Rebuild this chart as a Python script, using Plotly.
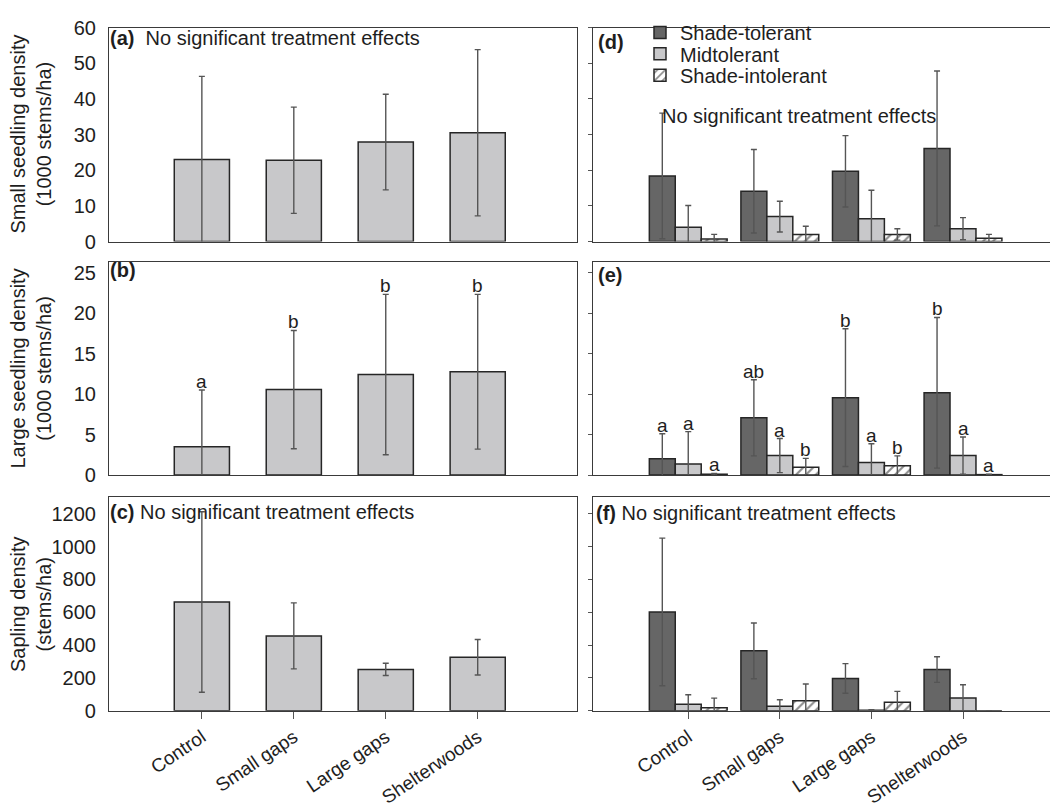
import plotly.graph_objects as go

W, H = 1050, 809

# ---- data -------------------------------------------------------------
categories = ["Control", "Small gaps", "Large gaps", "Shelterwoods"]

# left column: all species pooled (mean, SE)
small_all = [23.0, 22.8, 27.9, 30.5]
small_all_se = [23.3, 14.9, 13.4, 23.3]
large_all = [3.5, 10.55, 12.4, 12.75]
large_all_se = [7.0, 7.3, 9.9, 9.55]
large_all_letters = ["a", "b", "b", "b"]
sapling_all = [663, 456, 252, 326]
sapling_all_se = [550, 201, 37, 108]

# right column: by shade-tolerance group
groups = ["Shade-tolerant", "Midtolerant", "Shade-intolerant"]

small_tol = [18.4, 14.1, 19.7, 26.1]
small_tol_se = [17.6, 11.7, 10.0, 21.7]
small_mid = [4.0, 7.0, 6.4, 3.6]
small_mid_se = [6.1, 4.3, 8.0, 3.1]
small_int = [0.7, 2.0, 2.0, 0.9]
small_int_se = [1.3, 2.3, 1.6, 1.1]

large_tol = [2.0, 7.07, 9.55, 10.15]
large_tol_se = [3.1, 4.7, 8.5, 9.3]
large_mid = [1.36, 2.4, 1.56, 2.4]
large_mid_se = [4.0, 2.1, 2.3, 2.3]
large_int = [0.1, 0.96, 1.16, 0.05]
large_int_se = [0.1, 1.1, 1.2, 0.05]
large_tol_letters = ["a", "ab", "b", "b"]
large_mid_letters = ["a", "a", "a", "a"]
large_int_letters = ["a", "b", "b", "a"]

sap_tol = [602, 365, 197, 251]
sap_tol_se = [450, 170, 90, 78]
sap_mid = [40, 27, 3, 77]
sap_mid_se = [57, 40, 3, 81]
sap_int = [18, 61, 51, 0]
sap_int_se = [59, 102, 67, 0]

# ---- styling ------------------------------------------------------------
FONT = "Liberation Sans, Arial, sans-serif"
TXT = "#1e1e1e"
DARK = "#666666"
MID = "#c8c8ca"
EDGE = "#262626"
ERR = "#555555"
AXC = "#3a3a3a"
FS = 20

idx = list(range(len(categories)))


def px(x):
    return x / W


def py(y):
    return 1 - y / H


left_dom = [px(109), px(577)]
right_dom = [px(593), 1.0]
row_dom = [[py(237), py(17)], [py(477), py(258)], [py(719.3), py(500)]]
y_ranges = [[0, 60], [0, 26.3], [0, 1300]]
y_ticks = [list(range(0, 61, 10)), list(range(0, 26, 5)), list(range(0, 1201, 200))]


def errbar(se):
    return dict(type="data", array=se, visible=True, color=ERR,
                thickness=1.4, width=3)


fig = go.Figure()

# left column: pooled densities
left_sets = [(small_all, small_all_se), (large_all, large_all_se),
             (sapling_all, sapling_all_se)]
for r, (vals, se) in enumerate(left_sets):
    ax = "" if r == 0 else str(r + 1)
    fig.add_trace(go.Bar(
        x=idx, y=vals, width=0.6,
        marker=dict(color=MID, line=dict(color=EDGE, width=1.5)),
        error_y=errbar(se), xaxis="x" + ax, yaxis="y" + ax,
        showlegend=False, hoverinfo="y"))

# right column: tolerance groups side by side
bw = 0.2833
offsets = [-1.5 * bw, -0.5 * bw, 0.5 * bw]
markers = [
    dict(color=DARK, line=dict(color=EDGE, width=1.5)),
    dict(color=MID, line=dict(color=EDGE, width=1.5)),
    dict(color="white", line=dict(color=EDGE, width=1.5),
         pattern=dict(shape="/", fgcolor="#1a1a1a", bgcolor="white",
                      size=7, solidity=0.3)),
]
legend_ids = ["legend", "legend2", "legend3"]
right_sets = [
    [(small_tol, small_tol_se), (small_mid, small_mid_se), (small_int, small_int_se)],
    [(large_tol, large_tol_se), (large_mid, large_mid_se), (large_int, large_int_se)],
    [(sap_tol, sap_tol_se), (sap_mid, sap_mid_se), (sap_int, sap_int_se)],
]
for r, sets in enumerate(right_sets):
    ax = str(r + 4)
    for g, (vals, se) in enumerate(sets):
        fig.add_trace(go.Bar(
            x=idx, y=vals, width=bw, offset=offsets[g],
            marker=markers[g], error_y=errbar(se),
            name=groups[g], legendgroup=groups[g], showlegend=(r == 0),
            legend=legend_ids[g],
            xaxis="x" + ax, yaxis="y" + ax, hoverinfo="y"))

# ---- axes -----------------------------------------------------------------
layout_axes = {}
for col, dom, xr in [(0, left_dom, [-1.01, 4.08]), (1, right_dom, [-1.04, 3.95])]:
    for r in range(3):
        n = col * 3 + r + 1
        key = "" if n == 1 else str(n)
        bottom = r == 2
        layout_axes["xaxis" + key] = dict(
            domain=dom, range=xr, anchor="y" + key,
            tickvals=idx, ticktext=categories,
            showticklabels=bottom, ticks="outside" if bottom else "",
            ticklen=7, tickcolor="#555", tickwidth=1.2, tickangle=-34,
            tickfont=dict(size=19, color=TXT, family=FONT),
            showline=True, linecolor=AXC, linewidth=1.2, mirror=True,
            showgrid=False, zeroline=False, fixedrange=True)
        ydict = dict(
            domain=row_dom[r], range=y_ranges[r], anchor="x" + key,
            tickvals=y_ticks[r], showline=True, linecolor=AXC, linewidth=1.2,
            showgrid=False, zeroline=False, fixedrange=True)
        if col == 0:
            ydict.update(showticklabels=True, ticks="outside", ticklen=8,
                         tickcolor="rgba(0,0,0,0)", mirror=True,
                         tickfont=dict(size=FS, color=TXT, family=FONT))
        else:
            ydict.update(showticklabels=False, ticks="outside", ticklen=4,
                         tickcolor="#555", tickwidth=1, mirror=False)
        layout_axes["yaxis" + key] = ydict

# one legend per tolerance group, stacked in the top-left of panel (d)
legend_rows = [22, 44, 66]
legends = {}
for lid, yrow in zip(legend_ids, legend_rows):
    legends[lid] = dict(x=px(640), y=py(yrow), xanchor="left", yanchor="middle",
                        bgcolor="rgba(0,0,0,0)", itemwidth=30,
                        font=dict(size=FS, color=TXT, family=FONT))

# ---- annotations ------------------------------------------------------------
ann = []


def note(x, y, text, size=FS, xanchor="left", yanchor="middle", **kw):
    ann.append(dict(x=x, y=y, xref="paper", yref="paper", text=text,
                    showarrow=False, xanchor=xanchor, yanchor=yanchor,
                    font=dict(size=size, color=TXT, family=FONT), **kw))


note(px(108), py(28), "<b>(a)</b>  No significant treatment effects")
note(px(108), py(266), "<b>(b)</b>")
note(px(108), py(515), "<b>(c)</b> No significant treatment effects")
note(px(596), py(32), "<b>(d)</b>")
note(px(660), py(108), "No significant treatment effects")
note(px(596), py(271), "<b>(e)</b>")
note(px(594), py(516), "<b>(f)</b> No significant treatment effects")

y_titles = ["Small seedling density<br>(1000 stems/ha)",
            "Large seedling density<br>(1000 stems/ha)",
            "Sapling density<br>(stems/ha)"]
for r, t in enumerate(y_titles):
    note(px(31), (row_dom[r][0] + row_dom[r][1]) / 2, t, size=FS,
         xanchor="center", textangle=-90)


def letters(xax, yax, xs, tops, labels):
    for x, t, lab in zip(xs, tops, labels):
        ann.append(dict(x=x, y=t, xref=xax, yref=yax, text=lab,
                        showarrow=False, xanchor="center", yanchor="bottom",
                        yshift=-4, font=dict(size=19, color=TXT, family=FONT)))


letters("x2", "y2", idx, [m + s for m, s in zip(large_all, large_all_se)],
        large_all_letters)
for g, (vals, se), labs in zip(range(3), right_sets[1],
                               [large_tol_letters, large_mid_letters, large_int_letters]):
    xs = [i + offsets[g] + bw / 2 for i in idx]
    letters("x5", "y5", xs, [m + s for m, s in zip(vals, se)], labs)

fig.update_layout(
    width=W, height=H, margin=dict(l=0, r=0, t=0, b=0),
    paper_bgcolor="white", plot_bgcolor="white",
    barmode="overlay", font=dict(family=FONT, color=TXT, size=FS),
    showlegend=True, annotations=ann, **legends, **layout_axes)

fig.write_html("out.html")
